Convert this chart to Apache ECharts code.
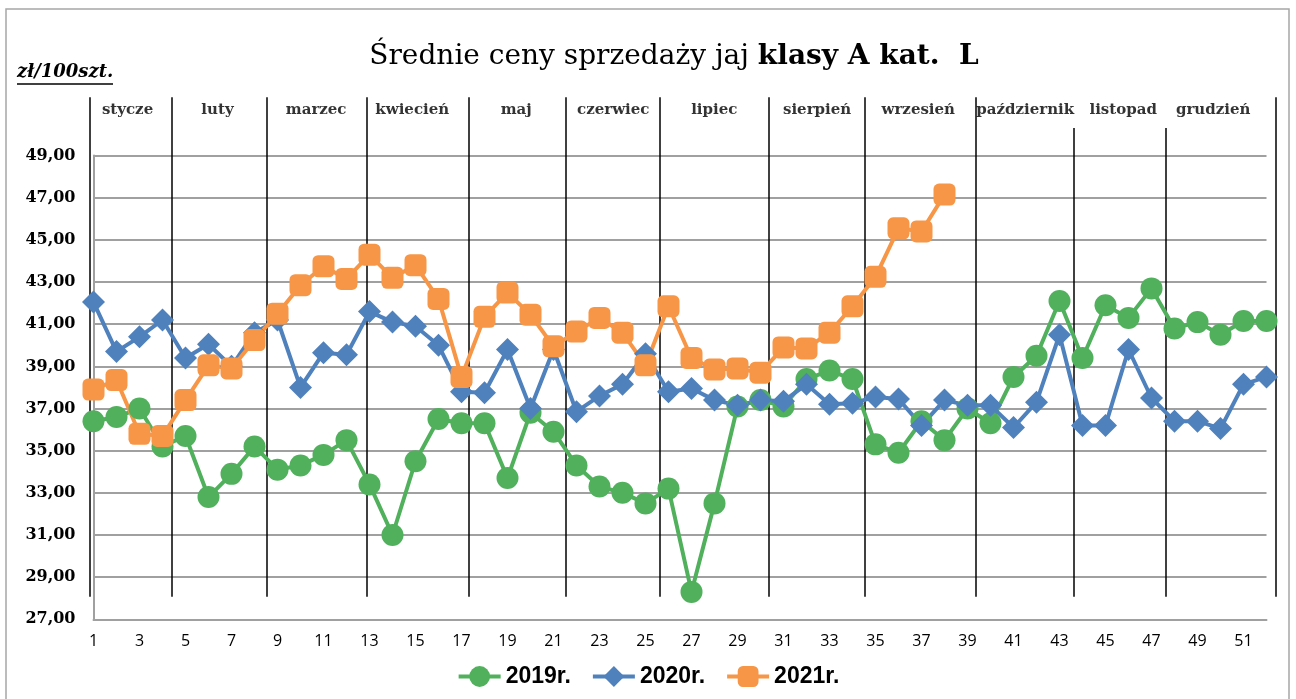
<!DOCTYPE html>
<html>
<head>
<meta charset="utf-8">
<script src="https://cdn.jsdelivr.net/npm/echarts@6/dist/echarts.min.js"></script>
<style>
  html, body { margin: 0; padding: 0; background: #fff; }
  #chart { width: 1296px; height: 699px; }
</style>
</head>
<body>
<div id="chart"></div>
<script>
'use strict';

// tygodnie roku
const weeks = ['1','2','3','4','5','6','7','8','9','10','11','12','13','14','15','16','17','18','19','20',
    '21','22','23','24','25','26','27','28','29','30','31','32','33','34','35','36','37','38','39','40',
    '41','42','43','44','45','46','47','48','49','50','51','52'];

const prices2019 = [36.4, 36.6, 37.0, 35.2, 35.7, 32.8, 33.9, 35.2, 34.1, 34.3, 34.8, 35.5, 33.4, 31.0, 34.5, 36.5,
    36.3, 36.3, 33.7, 36.8, 35.9, 34.3, 33.3, 33.0, 32.5, 33.2, 28.3, 32.5, 37.1, 37.4, 37.1, 38.4, 38.8, 38.4,
    35.3, 34.9, 36.4, 35.5, 37.0, 36.3, 38.5, 39.5, 42.1, 39.4, 41.9, 41.3, 42.7, 40.8, 41.1, 40.5, 41.15, 41.15];

const prices2020 = [42.05, 39.7, 40.4, 41.2, 39.4, 40.05, 39.0, 40.6, 41.2, 38.0, 39.65, 39.55, 41.6, 41.1, 40.9, 40.0,
    37.8, 37.75, 39.8, 37.0, 39.8, 36.85, 37.6, 38.15, 39.6, 37.8, 37.95, 37.4, 37.15, 37.4, 37.35, 38.15, 37.2, 37.25,
    37.55, 37.45, 36.2, 37.4, 37.15, 37.15, 36.1, 37.3, 40.5, 36.2, 36.2, 39.8, 37.5, 36.4, 36.4, 36.05, 38.15, 38.5];

const prices2021 = [37.9, 38.35, 35.8, 35.7, 37.4, 39.05, 38.9, 40.25, 41.5, 42.85, 43.75, 43.15, 44.3, 43.2, 43.8, 42.2,
    38.5, 41.35, 42.5, 41.45, 39.95, 40.65, 41.3, 40.6, 39.05, 41.85, 39.4, 38.85, 38.9, 38.7, 39.9, 39.85, 40.6, 41.85,
    43.25, 45.55, 45.4, 47.15];

// miesiące: granice (w tygodniach) i środki etykiet
const monthNames = ['stycze', 'luty', 'marzec', 'kwiecień', 'maj', 'czerwiec', 'lipiec', 'sierpień',
    'wrzesień', 'październik', 'listopad', 'grudzień'];
const monthCenters = [2.48, 6.39, 10.68, 14.86, 19.38, 23.6, 27.99, 32.46, 36.86, 41.51, 45.77, 49.68];
const monthEdges = [0.857, 4.42, 8.55, 12.9, 17.31, 21.55, 25.6, 30.36, 34.53, 39.38, 43.62, 47.62, 52.42];

const chart = echarts.init(document.getElementById('chart'));

const serif = '"DejaVu Serif", serif';
const sans = '"Open Sans", sans-serif';

// linie oddzielające miesiące (niektóre zaczynają się niżej)
const edgeLines = monthEdges.map((w, i) => {
    const top = (i === 10 || i === 11) ? 0.926 : 0.986;
    return { coords: [[w, top], [w, 0.016]] };
});

const monthLabels = monthNames.map((name, i) => ({ name: name, value: [monthCenters[i], 0.961] }));

const option = {
    animation: false,
    title: {
        text: '{a|Średnie ceny sprzedaży jaj }{b|klasy A kat.  L}',
        left: 669,
        top: 38,
        textAlign: 'center',
        textStyle: {
            rich: {
                a: { fontFamily: serif, fontSize: 28, fontWeight: 'normal', color: '#000' },
                b: { fontFamily: serif, fontSize: 28, fontWeight: 'bold', color: '#000' }
            }
        }
    },
    legend: {
        data: ['2019r.', '2020r.', '2021r.'],
        left: 'center',
        top: 660,
        itemWidth: 42,
        itemHeight: 26,
        itemGap: 20,
        lineStyle: { width: 4 },
        textStyle: { fontFamily: '"Liberation Sans", sans-serif', fontWeight: 'bold', fontSize: 23, color: '#000' }
    },
    grid: [
        { left: 93.5, right: 29.5, top: 155.6, bottom: 79.7 },
        { left: 70.5, right: 6.5, top: 90, bottom: 94 }
    ],
    xAxis: [
        {
            type: 'category',
            data: weeks,
            boundaryGap: false,
            gridIndex: 0,
            axisLine: { lineStyle: { color: '#a0a0a0', width: 2 } },
            axisTick: { show: false },
            axisLabel: { interval: 1, margin: 14, fontFamily: sans, fontSize: 16, color: '#000' },
            splitLine: { show: false }
        },
        { type: 'value', gridIndex: 1, min: 0, max: 53, show: false }
    ],
    yAxis: [
        {
            type: 'value',
            gridIndex: 0,
            min: 27,
            max: 49,
            interval: 2,
            axisLine: { show: true, lineStyle: { color: '#a0a0a0', width: 2 } },
            axisTick: { show: false },
            axisLabel: {
                margin: 18,
                fontFamily: serif,
                fontWeight: 'bold',
                fontSize: 16,
                color: '#000',
                formatter: v => v.toFixed(2).replace('.', ',')
            },
            splitLine: { lineStyle: { color: '#a0a0a0', width: 2 } }
        },
        { type: 'value', gridIndex: 1, min: 0, max: 1, show: false }
    ],
    graphic: [
        {
            type: 'rect',
            shape: { x: 6, y: 9, width: 1283, height: 710 },
            style: { fill: null, stroke: '#a6a6a6', lineWidth: 1.5 },
            z: 0
        },
        {
            type: 'text',
            left: 17,
            top: 63,
            style: {
                text: 'zł/100szt.',
                font: 'italic bold 18px "DejaVu Serif", serif',
                fill: '#000'
            }
        },
        {
            type: 'line',
            shape: { x1: 17, y1: 84, x2: 113, y2: 84 },
            style: { stroke: '#000', lineWidth: 1.5 }
        }
    ],
    series: [
        {
            name: 'miesiące',
            type: 'lines',
            coordinateSystem: 'cartesian2d',
            xAxisIndex: 1,
            yAxisIndex: 1,
            silent: true,
            lineStyle: { color: '#000', width: 1.5, opacity: 1 },
            data: edgeLines,
            z: 1
        },
        {
            name: 'etykiety',
            type: 'scatter',
            xAxisIndex: 1,
            yAxisIndex: 1,
            silent: true,
            symbolSize: 1,
            itemStyle: { color: 'transparent' },
            label: {
                show: true,
                position: 'inside',
                formatter: '{b}',
                fontFamily: serif,
                fontWeight: 'bold',
                fontSize: 15,
                color: '#000'
            },
            data: monthLabels
        },
        {
            name: '2019r.',
            type: 'line',
            data: prices2019,
            symbol: 'circle',
            symbolSize: 22,
            showAllSymbol: true,
            lineStyle: { color: '#50b05c', width: 4 },
            itemStyle: { color: '#50b05c' },
            z: 3
        },
        {
            name: '2020r.',
            type: 'line',
            data: prices2020,
            symbol: 'diamond',
            symbolSize: 23,
            showAllSymbol: true,
            lineStyle: { color: '#4f81bd', width: 4 },
            itemStyle: { color: '#4f81bd' },
            z: 3
        },
        {
            name: '2021r.',
            type: 'line',
            data: prices2021,
            symbol: 'roundRect',
            symbolSize: 22,
            showAllSymbol: true,
            lineStyle: { color: '#f79646', width: 4 },
            itemStyle: { color: '#f79646' },
            z: 3
        }
    ]
};

chart.setOption(option);
</script>
</body>
</html>
